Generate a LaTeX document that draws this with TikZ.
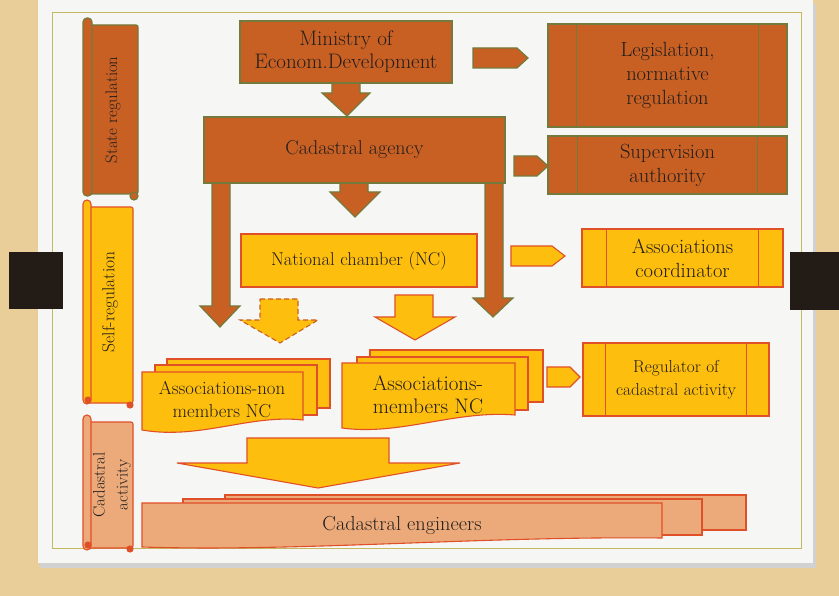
\documentclass[tikz,border=0pt]{standalone}
\usetikzlibrary{positioning}
\definecolor{rust}{RGB}{200,96,36}
\definecolor{olivedge}{RGB}{116,122,60}
\definecolor{gold}{RGB}{253,190,14}
\definecolor{redge}{RGB}{224,80,40}
\definecolor{salmon}{RGB}{236,170,122}
\definecolor{beige}{RGB}{234,206,154}
\definecolor{paper}{RGB}{246,246,244}
\definecolor{clipc}{RGB}{34,27,22}
\definecolor{framec}{RGB}{196,184,96}
\definecolor{inkc}{RGB}{34,30,28}

\begin{document}
\begin{tikzpicture}[x=1pt, y=-1pt, every node/.style={font=\fontsize{20.5}{24}\selectfont, align=center, inner sep=0pt, text=inkc}]
	\tikzset{
		rustbox/.style={draw=olivedge, fill=rust, line width=1.2pt},
		goldbox/.style={draw=redge, fill=gold, line width=1.1pt},
		salmonbox/.style={draw=redge, fill=salmon, line width=1.1pt},
		dashbox/.style={draw=rust, fill=gold, line width=1.1pt, dash pattern=on 5pt off 3pt},
		txtsize/.style={font=\fontsize{#1}{23}\selectfont},
	}
	\useasboundingbox (0,0) rectangle (839,596);
	% background, paper and clips
	\fill[beige] (0,0) rectangle (839,596);
	\fill[black!18] (40,4) rectangle (816,568);
	\fill[paper] (38,0) rectangle (813,563);
	\draw[framec, line width=0.7pt] (52,12) rectangle (801,548);
	\fill[clipc] (9,252) rectangle (63,309);
	\fill[clipc] (790,252) rectangle (839,310);

	% scrolls on the left
	\draw[rustbox, rounded corners=2pt] (88,25) rectangle (138,194);
	\draw[rustbox, rounded corners=4pt] (83,18) rectangle (92,196);
	\draw[rustbox] (134,196) circle (4pt);
	\draw[goldbox, rounded corners=2pt] (88,207) rectangle (133,403);
	\draw[goldbox, rounded corners=4pt] (83,200) rectangle (91,404);
	\draw[goldbox, fill=redge] (88,400) circle (3pt);
	\draw[goldbox, fill=redge] (130,405) circle (3pt);
	\draw[salmonbox, rounded corners=2pt] (88,422) rectangle (133,548);
	\draw[salmonbox, rounded corners=4pt] (83,415) rectangle (91,550);
	\draw[salmonbox, fill=redge] (88,545) circle (3pt);
	\draw[salmonbox, fill=redge] (130,549) circle (3pt);
	\node[rotate=90, txtsize=16.7] (sreg) at (113,110) {State regulation};
	\node[rotate=90, txtsize=17.5] (selfreg) at (110,302) {Self-regulation};
	\node[rotate=90, txtsize=16.7] (cact) at (112,485) {Cadastral\\activity};

	% block arrows under the boxes
	\draw[rustbox] (332,80) -- (360,80) -- (360,93) -- (370,93) -- (347,116) -- (322,93) -- (332,93) -- cycle;
	\draw[rustbox] (340,180) -- (368,180) -- (368,192) -- (380,192) -- (355,217) -- (330,192) -- (340,192) -- cycle;
	\draw[rustbox] (212,180) -- (230,180) -- (230,306) -- (240,306) -- (220,327) -- (200,306) -- (212,306) -- cycle;
	\draw[rustbox] (485,180) -- (503,180) -- (503,298) -- (513,298) -- (493,317) -- (473,298) -- (485,298) -- cycle;
	\draw[dashbox] (260,299) -- (298,299) -- (298,320) -- (318,320) -- (280,343) -- (240,320) -- (260,320) -- cycle;
	\draw[goldbox] (395,295) -- (433,295) -- (433,317) -- (455,317) -- (415,340) -- (375,317) -- (395,317) -- cycle;
	\draw[goldbox] (247,438) -- (389,438) -- (389,463) -- (460,463) -- (318,488) -- (177,463) -- (247,463) -- cycle;
	% small arrows to the right column
	\draw[rustbox] (473,48) -- (517,48) -- (528,58) -- (517,68) -- (473,68) -- cycle;
	\draw[rustbox] (514,156) -- (537,156) -- (548,166) -- (537,176) -- (514,176) -- cycle;
	\draw[goldbox] (511,246) -- (552,246) -- (565,256) -- (552,266) -- (511,266) -- cycle;
	\draw[goldbox] (547,367) -- (570,367) -- (580,377) -- (570,387) -- (547,387) -- cycle;

	% main boxes
	\node[rustbox, minimum width=212pt, minimum height=62pt, txtsize=21] (min) at (346,52) {Ministry of\\Econom.Development};
	\node[rustbox, minimum width=301pt, minimum height=66pt, txtsize=20] (cad) at (354.5,150) {Cadastral agency};
	\node[goldbox, minimum width=236pt, minimum height=53pt, txtsize=18.5] (nc) at (359,260.5) {National chamber (NC)};
	\node[rustbox, minimum width=239pt, minimum height=103pt] (leg) at (667.5,75.5) {Legislation,\\normative\\regulation};
	\node[rustbox, minimum width=239pt, minimum height=58pt] (sup) at (667.5,165) {Supervision\\authority};
	\node[goldbox, minimum width=201pt, minimum height=58pt] (coord) at (682.5,258) {Associations\\coordinator};
	\node[goldbox, minimum width=186pt, minimum height=73pt, txtsize=17.3] (reg) at (676,379.5) {Regulator of\\cadastral activity};
	\foreach \n/\d in {leg/29,sup/30}
		\draw[olivedge, line width=1.1pt] ([xshift=\d]\n.north west) -- ([xshift=\d]\n.south west)
			([xshift=-\d]\n.north east) -- ([xshift=-\d]\n.south east);
	\foreach \n/\d in {coord/25,reg/23}
		\draw[redge, line width=1.1pt] ([xshift=\d]\n.north west) -- ([xshift=\d]\n.south west)
			([xshift=-\d]\n.north east) -- ([xshift=-\d]\n.south east);

	% stacked documents
	\draw[goldbox] (167,359) rectangle (330,408);
	\draw[goldbox] (155,365) rectangle (317,415);
	\draw[goldbox] (142,372) -- (303,372) -- (303,420) .. controls (250,414) and (200,440) .. (142,430) -- cycle;
	\draw[goldbox] (370,350) rectangle (543,402);
	\draw[goldbox] (357,357) rectangle (528,410);
	\draw[goldbox] (342,363) -- (515,363) -- (515,415) .. controls (455,410) and (400,436) .. (342,428) -- cycle;
	\draw[salmonbox] (225,495) rectangle (746,530);
	\draw[salmonbox] (183,499) rectangle (702,535);
	\draw[salmonbox] (142,503) -- (662,503) -- (662,538) .. controls (480,536) and (300,552) .. (142,547) -- cycle;
	\node[txtsize=18.8] (nonmem) at (222,400) {Associations-non\\members NC};
	\node[txtsize=21] (mem) at (428,395) {Associations-\\members NC};
	\node[txtsize=20.3] (eng) at (402,525) {Cadastral engineers};
\end{tikzpicture}
\end{document}
